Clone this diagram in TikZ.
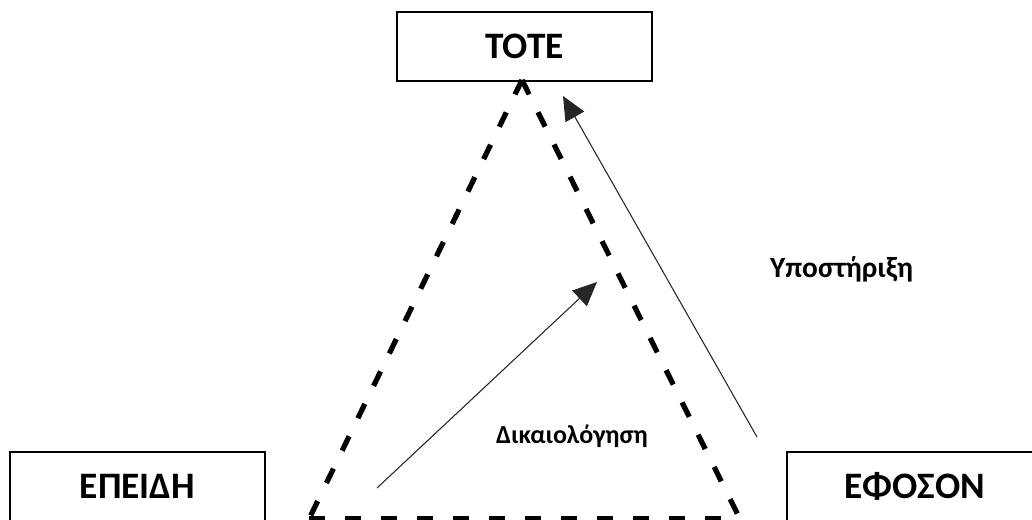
\documentclass[tikz,border=0pt]{standalone}
\usepackage{fontspec}
\setmainfont{Carlito}
\usetikzlibrary{arrows.meta}

\begin{document}
\begin{tikzpicture}[x=0.75pt,y=-0.75pt,
    box/.style={draw, line width=1.5pt, minimum width=191pt, minimum height=52pt,
      inner sep=0pt, font=\fontsize{28}{31}\selectfont\bfseries},
    edge/.style={line width=3.9pt, dash pattern=on 12pt off 15pt},
    link/.style={draw=black!85, line width=0.8pt, -{Triangle[length=18pt,width=16pt]}},
    lbl/.style={anchor=base}]
  \clip (0,0) rectangle (1032,520);

  % the three boxes
  \node[box] (tote) at (524.5,46.5) {ΤΟΤΕ};
  \node[box] (epeidi) at (137.5,486.5) {ΕΠΕΙΔΗ};
  \node[box] (efoson) at (914.5,486.5) {ΕΦΟΣΟΝ};

  % dashed triangle
  \coordinate (top) at (522,80);
  \coordinate (bl) at (309,519);
  \coordinate (br) at (740,519);
  \draw[edge] (top) -- (bl);
  \draw[edge] (top) -- (br);
  \draw[edge] (bl) -- (br);

  % arrows
  \coordinate (j0) at (377,488);
  \coordinate (j1) at (597,282);
  \draw[link] (j0) -- (j1);
  \coordinate (s0) at (757,437);
  \coordinate (s1) at (563,96);
  \draw[link] (s0) -- (s1);

  \node[lbl, font=\fontsize{22}{25}\selectfont\bfseries] (support) at (841.5,278) {Υποστήριξη};
  \node[lbl, font=\fontsize{19.5}{22}\selectfont\bfseries] (justif) at (572,443) {Δικαιολόγηση};
\end{tikzpicture}
\end{document}
